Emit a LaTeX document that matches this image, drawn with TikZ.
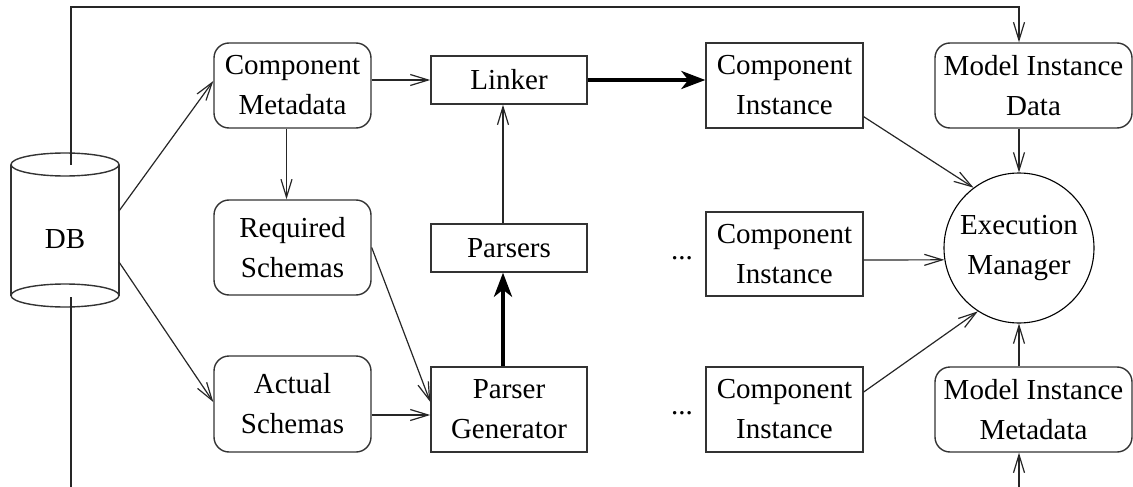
\documentclass[tikz,border=0pt]{standalone}
\usepackage{fontspec}
\setmainfont{Liberation Serif}
\usetikzlibrary{arrows.meta,calc}
\begin{document}
\begin{tikzpicture}[x=1pt,y=-1pt,
 font=\fontsize{29}{40}\selectfont,
 every node/.style={align=center, inner sep=0pt},
 rbox/.style={draw=black!80, line width=1.4pt, rounded corners=15pt, minimum width=157pt},
 sbox/.style={draw=black!80, line width=1.4pt, minimum width=156pt},
 shape line/.style={draw=black!80, line width=1.4pt},
 plain/.style={draw=black!85, line width=1.3pt},
 arr/.style={draw=black!85, line width=1.2pt, -{Straight Barb[length=18pt,width=11pt]}},
 thickarr/.style={draw=black, line width=4pt, -{Stealth[length=24pt,width=18pt,inset=7pt]}}]
\useasboundingbox (0,0) rectangle (1133,487);

% nodes
\node[rbox, minimum height=85pt] (cm) at (292.5,85.5) {Component\\Metadata};
\node[rbox, minimum height=95pt] (rs) at (292.5,247.5) {Required\\Schemas};
\node[rbox, minimum height=96pt] (as) at (292.5,404) {Actual\\Schemas};
\node[sbox, minimum height=48pt] (lk) at (509,80) {Linker};
\node[sbox, minimum height=48pt] (ps) at (509,248) {Parsers};
\node[sbox, minimum height=85pt] (pg) at (509,409.5) {Parser\\Generator};
\node[sbox, minimum width=157pt, minimum height=85pt] (ci1) at (784.5,85.5) {Component\\Instance};
\node[sbox, minimum width=157pt, minimum height=84pt] (ci2) at (784.5,254) {Component\\Instance};
\node[sbox, minimum width=157pt, minimum height=85pt] (ci3) at (784.5,409.5) {Component\\Instance};
\node[rbox, minimum width=197pt, minimum height=85pt] (mid) at (1033.5,85.5) {Model Instance\\Data};
\node[rbox, minimum width=197pt, minimum height=85pt] (mim) at (1033.5,409.5) {Model Instance\\Metadata};
\node[circle, draw=black, line width=1.1pt, minimum size=150pt] (em) at (1019,248) {Execution\\Manager};
\node (dots2) at (682,258) {...};
\node (dots3) at (682,413) {...};

% DB cylinder
\draw[shape line] (65,164.5) ellipse [x radius=54pt, y radius=11.5pt];
\draw[shape line] (11,164.5) -- (11,295.5);
\draw[shape line] (119,164.5) -- (119,295.5);
\draw[shape line] (65,295.5) ellipse [x radius=54pt, y radius=11.5pt];
\node (db) at (65,239) {DB};

% helper coordinates
\coordinate (dbtop) at (71,164.5);
\coordinate (dbbot) at (71,297);
\coordinate (botL) at (71,487);
\coordinate (topy) at (0,7);
\coordinate (boty) at (0,487);
\coordinate (asout) at ($(as.east)+(0,11)$);

% connectors
\draw[arr] (dbtop) |- (em.north |- topy) -- (em.north |- mid.north);
\draw[plain] (dbbot) -- (botL);
\draw[arr] (em.south |- boty) -- (em.south |- mim.south);
\draw[arr] ($(db)+(54,-28)$) -- ($(cm.west)+(0,-4.5)$);
\draw[arr] ($(db)+(54,23)$) -- ($(as.west)+(0,-2)$);
\draw[arr] (cm.east |- lk.west) -- (lk.west);
\draw[arr] ($(cm.south)+(-6,0)$) -- ($(rs.north)+(-6,0)$);
\draw[arr] (rs.east) -- ($(pg.west)+(0,-7.5)$);
\draw[arr] (asout) -- (pg.west |- asout);
\draw[thickarr] (lk.east) -- (ci1.west |- lk.east);
\draw[arr] ($(ps.north)+(-6,0)$) -- ($(lk.south)+(-6,0)$);
\draw[thickarr] ($(pg.north)+(-6,0)$) -- ($(ps.south)+(-6,0)$);
\draw[arr] ($(ci1.south east)+(0,-12)$) -- (em.127.5);
\draw[arr] ($(ci2.east)+(0,6)$) -- (em.189);
\draw[arr] ($(ci3.east)+(0,-17.5)$) -- (em.237.5);
\draw[arr] (em.north |- mid.south) -- (em.north);
\draw[arr] (em.south |- mim.north) -- (em.south);
\end{tikzpicture}
\end{document}
